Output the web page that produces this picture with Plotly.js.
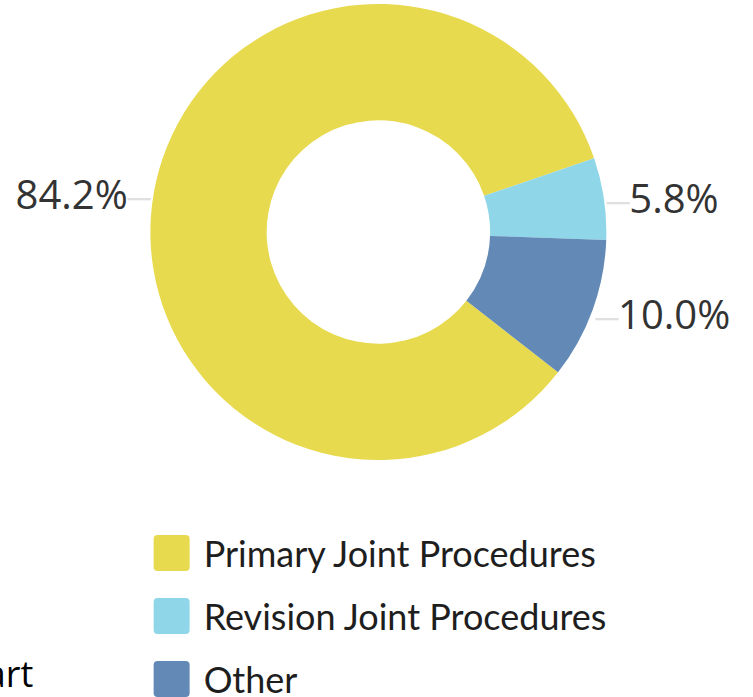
<!DOCTYPE html>
<html><head><meta charset="utf-8">
<script src="https://cdn.plot.ly/plotly-3.0.1.min.js"></script>
<style>html,body{margin:0;padding:0;background:#fff;}#chart{width:753px;height:697px;}</style>
</head><body><div id="chart"></div>
<script>
const categories = ["Primary Joint Procedures", "Revision Joint Procedures", "Other"];
const shares = [84.2, 5.8, 10.0];
const sliceColors = ["#E8DA4E", "#8FD7E8", "#6389B6"];
const leader = "<span style='color:#e0e0e0;font-size:32px'>\u2500</span>";
const labelTemplates = [
  "%{value:.1f}%" + leader,
  leader + "%{value:.1f}%",
  leader + "%{value:.1f}%"
];

const data = [{
  type: "pie",
  labels: categories,
  values: shares,
  sort: false,
  direction: "clockwise",
  rotation: 128,
  hole: 0.49,
  marker: {colors: sliceColors, line: {width: 0}},
  texttemplate: labelTemplates,
  textposition: "outside",
  outsidetextfont: {family: "Open Sans", size: 40, color: "#333333"},
  domain: {x: [0.005, 1], y: [0.342, 1]}
}];

const layout = {
  width: 753, height: 697,
  margin: {l: 0, r: 0, t: 4, b: 0},
  paper_bgcolor: "#fff",
  showlegend: true,
  legend: {
    x: 0.2173, y: 0.0, xanchor: "left", yanchor: "bottom",
    font: {family: "Lato", size: 36, color: "#1e1e1e"},
    orientation: "v"
  },
  annotations: [{
    text: "Chart", xref: "paper", yref: "paper", x: 35/753, y: -3/697, xanchor: "right", yanchor: "bottom",
    showarrow: false, font: {family: "Open Sans", size: 36, color: "#000"}
  }]
};

Plotly.newPlot("chart", data, layout, {displayModeBar: false, staticPlot: true}).then(function (gd) {
  // pull outside labels a little closer to the ring
  const cx = 378;
  gd.querySelectorAll("g.slice text.slicetext").forEach(function (t) {
    const b = t.getBBox();
    const ctm = t.getCTM();
    const mid = ctm ? ctm.e + ctm.a * (b.x + b.width / 2) : cx;
    const dx = mid < cx ? 11 : -12;
    const tr = t.getAttribute("transform") || "";
    t.setAttribute("transform", "translate(" + dx + ",0)" + tr);
  });

  const legend = gd.querySelector(".legend");
  if (!legend) return;
  const m = /translate\(([-\d.]+)[ ,]+([-\d.]+)\)/.exec(legend.getAttribute("transform") || "");
  const lx = m ? parseFloat(m[1]) : 163.6;
  legend.setAttribute("transform", "translate(" + lx + ",553)");
  legend.querySelectorAll("[clip-path]").forEach(function (el) { el.removeAttribute("clip-path"); });
  const bg = legend.querySelector("rect.bg");
  if (bg) bg.setAttribute("height", "0");
  legend.querySelectorAll("g.traces").forEach(function (item, i) {
    item.setAttribute("transform", "translate(0," + (i * 63) + ")");
    item.querySelectorAll(".legendpoints path").forEach(function (p) {
      p.setAttribute("d", "M-26,-18H2A4,4 0 0 1 6,-14V14A4,4 0 0 1 2,18H-26A4,4 0 0 1 -30,14V-14A4,4 0 0 1 -26,-18Z");
      p.style.strokeWidth = "0px";
    });
  });
  const sb = legend.querySelector(".scrollbox");
  if (sb) sb.setAttribute("transform", "translate(0,0)");
});
</script></body></html>
